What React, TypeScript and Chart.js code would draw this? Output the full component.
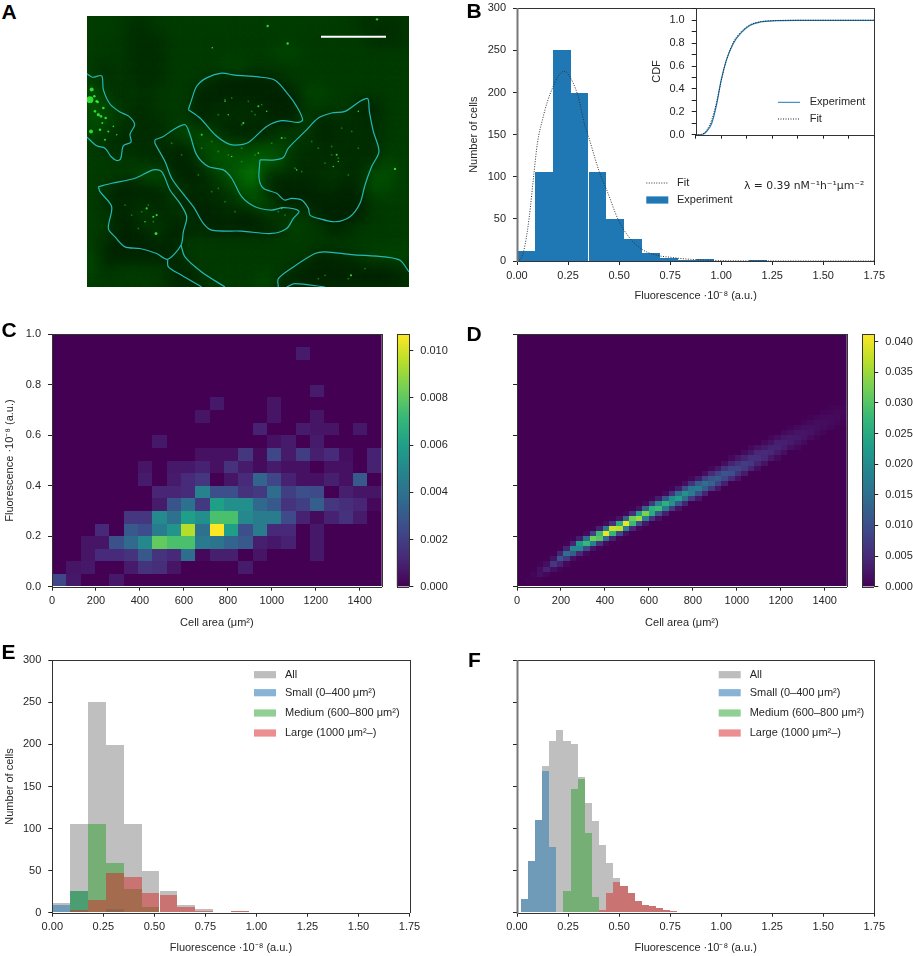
import { useEffect, useRef } from "react"
import { Chart, registerables } from "chart.js"

Chart.register(...registerables)

// ---- histogram data (20 bins, panels B and E) ----
const coarseBins = [
  0.044, 0.131, 0.219, 0.306, 0.394, 0.481, 0.569, 0.656, 0.744, 0.831,
  0.919, 1.006, 1.094, 1.181, 1.269, 1.356, 1.444, 1.531, 1.619, 1.706,
]
const allCells = [12, 106, 251, 199, 106, 50, 26, 9, 4, 1, 2, 0.4, 0, 1, 0, 0, 0, 0, 0, 0]
const smallCells = [9, 26, 0, 4, 0, 0, 0, 0, 0, 0, 0, 0, 0, 0, 0, 0, 0, 0, 0, 0]
const mediumCells = [0, 26, 105, 59, 28, 7, 0, 0, 0, 0, 0, 0, 0, 0, 0, 0, 0, 0, 0, 0]
const largeCells = [0, 3, 15, 47, 43, 23, 21, 7, 2, 1, 2, 0, 0, 1, 0, 0, 0, 0, 0, 0]

const fitX = [0, 0.02, 0.04, 0.06, 0.083, 0.1, 0.125, 0.15, 0.175, 0.2, 0.23, 0.25, 0.3, 0.33, 0.35, 0.403, 0.44, 0.496, 0.553, 0.618, 0.7, 0.75, 0.8, 0.85, 0.9, 1, 1.1, 1.25, 1.75]
const fitY = [0, 3, 20, 52, 104, 140, 168, 190, 206, 219, 225, 222, 195, 163, 148, 106, 84, 49, 27, 13, 6, 4.5, 3, 2, 1.2, 0.5, 0.2, 0.1, 0]

// ---- CDF inset ----
const cdfX = [0, 0.06, 0.108, 0.157, 0.206, 0.25, 0.3, 0.37, 0.444, 0.53, 0.63, 0.79, 1, 1.75]
const cdfExperiment = [0, 0, 0.03, 0.1, 0.27, 0.48, 0.65, 0.8, 0.89, 0.955, 0.985, 0.997, 1, 1]
const cdfFit = [0, 0.004, 0.04, 0.13, 0.29, 0.47, 0.65, 0.81, 0.9, 0.96, 0.987, 0.998, 1, 1]

// ---- histogram data (panel F) ----
const fineBins = [
  0.0355, 0.0704, 0.1053, 0.1402, 0.1751, 0.21, 0.2449, 0.2798, 0.3147, 0.3496, 0.3845, 0.4194, 0.4543,
  0.4892, 0.5241, 0.559, 0.5939, 0.6288, 0.6637, 0.6986, 0.7335, 0.7684, 0.8033, 0.8382, 0.8731, 0.908,
]
const simAll = [16, 61, 110, 174, 204, 217, 204, 200, 161, 130, 109, 80, 59, 41, 32, 23, 14, 9, 8, 5, 3, 2, 1.3, 1, 0.5, 0.3]
const simSmall = [16, 61, 110, 168, 78, 1, 0, 0, 0, 0, 0, 0, 0, 0, 0, 0, 0, 0, 0, 0, 0, 0, 0, 0, 0, 0]
const simMedium = [0, 0, 0, 0, 0, 0, 26, 147, 159, 95, 19, 0, 0, 0, 0, 0, 0, 0, 0, 0, 0, 0, 0, 0, 0, 0]
const simLarge = [0, 0, 0, 0, 0, 0, 0, 0, 0, 0, 0, 3, 24, 37, 32, 23, 14, 9, 8, 5, 3, 2, 1.3, 1, 0.5, 0.3]

// ---- panel C: measured density, one row per 0.05 fluorescence, 23 area bins (x 1e-3) ----
const measuredRows = [
  [2.3, 0.7, 0, 0, 0.7, 0, 0, 0, 0, 0, 0, 0, 0, 0, 0, 0, 0, 0, 0, 0, 0, 0, 0],
  [0, 0.6, 0.7, 0, 0, 0.8, 1.6, 1.4, 0.6, 0, 0, 0, 0, 0.8, 0, 0, 0, 0, 0, 0, 0, 0, 0],
  [0, 0, 0.6, 1.3, 1.3, 1.6, 2.9, 1.6, 1.2, 3.8, 0.2, 0.9, 0.9, 0, 0.6, 0, 0, 0, 0.7, 0, 0, 0, 0],
  [0, 0, 0.6, 0.6, 2.7, 3.7, 5, 8.1, 7.6, 7.6, 4.4, 4.1, 3.4, 3, 0.9, 0.7, 1, 0, 0.7, 0, 0, 0, 0],
  [0, 0, 0, 1.2, 0, 3, 2.5, 4.5, 5.5, 9.5, 4, 10.7, 6, 2.6, 4.5, 1.2, 1.2, 0, 0.7, 0, 0, 0, 0],
  [0, 0, 0, 0, 0, 1.7, 1.7, 5.1, 4, 6, 5.3, 7.6, 7.6, 5, 4.5, 4.5, 2.4, 1, 0.3, 1, 1.5, 0.8, 0],
  [0, 0, 0, 0, 0, 0, 0, 0.8, 2.8, 4, 1.8, 6, 5.3, 5.3, 3.6, 3, 1.6, 2, 3.2, 1.7, 1.4, 1.1, 0.2],
  [0, 0, 0, 0, 0, 0, 0, 1.1, 1.1, 1.3, 4.8, 2.6, 2.6, 1.5, 1.8, 3.8, 2, 2.6, 2.4, 0, 0.9, 0.6, 0.6],
  [0, 0, 0, 0, 0, 0, 0.8, 0, 0.8, 1.3, 1.7, 0, 0.6, 1.3, 3.4, 2.3, 1, 0.5, 0.5, 0.9, 0.5, 3, 0],
  [0, 0, 0, 0, 0, 0, 0.6, 0, 0.7, 0.7, 1, 0.5, 1.5, 0.8, 0.3, 0.8, 0.5, 0.5, 0, 0.5, 0.5, 0, 1],
  [0, 0, 0, 0, 0, 0, 0, 0, 0, 0, 0.5, 0.5, 0.5, 1.7, 0.3, 2.3, 0.8, 1.9, 0.9, 1.3, 0.4, 0, 1],
  [0, 0, 0, 0, 0, 0, 0, 0.7, 0, 0, 0, 0, 0, 0, 0, 0.5, 0.8, 0, 0.8, 0, 0, 0, 0],
  [0, 0, 0, 0, 0, 0, 0, 0, 0, 0, 0, 0, 0, 0, 1, 0, 0, 0.8, 0.6, 0.6, 0, 0.7, 0],
  [0, 0, 0, 0, 0, 0, 0, 0, 0, 0, 0.6, 0, 0, 0, 0, 0.6, 0, 0, 0.6, 0, 0, 0, 0],
  [0, 0, 0, 0, 0, 0, 0, 0, 0, 0, 0, 0.7, 0, 0, 0, 0.6, 0, 0, 0, 0, 0, 0, 0],
  [0, 0, 0, 0, 0, 0, 0, 0, 0, 0, 0, 0, 0, 0, 0, 0, 0, 0, 0.8, 0, 0, 0, 0],
  [0, 0, 0, 0, 0, 0, 0, 0, 0, 0, 0, 0, 0, 0, 0, 0, 0, 0, 0, 0, 0, 0, 0],
  [0, 0, 0, 0, 0, 0, 0, 0, 0, 0, 0, 0, 0, 0, 0, 0, 0, 0, 0, 0, 0, 0, 0],
  [0, 0, 0, 0, 0, 0, 0, 0, 0, 0, 0, 0, 0, 0, 0, 0, 0, 0.8, 0, 0, 0, 0, 0],
  [0, 0, 0, 0, 0, 0, 0, 0, 0, 0, 0, 0, 0, 0, 0, 0, 0, 0, 0, 0, 0, 0, 0],
]

// ---- panel D: simulated density, 50 x 50 bins, each column lists its first lit row then its values (x 1e-3) ----
const simulatedColumns = [
  [0], [0, 0.1, 0.2], [1, 0.3, 0.6, 0.1], [1, 0.3, 1.8, 1.5, 0.2], [2, 0.7, 3.9, 1.5, 0.1],
  [3, 1.8, 6.8, 2, 0.1], [3, 0.4, 3.8, 10.6, 4, 0.3], [4, 0.8, 7, 14.8, 4, 0.2], [5, 1.8, 12, 19, 4, 0.2], [5, 0.3, 4.5, 19, 22, 3],
  [6, 0.8, 9, 27.5, 15, 1], [7, 2.2, 18, 32, 8, 0.3], [7, 0.4, 6, 30, 28, 3.5], [8, 1.2, 14, 40, 17, 1.2], [9, 3.5, 27, 38, 6, 0.3],
  [9, 0.5, 9, 37, 25, 2], [10, 1.8, 18, 40, 13, 0.7], [11, 4.5, 28, 32, 5.5, 0.2], [11, 0.8, 10, 35, 23, 2], [12, 2.5, 18, 33, 13, 1],
  [13, 6, 25, 26, 7, 0.4], [13, 1.5, 11, 28, 19, 3], [14, 3.5, 17, 26, 11, 1], [15, 7, 21, 20, 6, 0.5], [15, 2, 11, 23, 15, 3],
  [16, 4, 15, 21, 10, 1.5], [17, 7, 17, 16, 6, 0.7], [17, 2.5, 10, 17, 12, 3], [18, 4, 12, 15, 8, 1.5], [19, 6.5, 13, 11, 5, 0.7],
  [19, 2.5, 8, 12, 8, 2.5], [20, 3.5, 9, 11, 6, 1.5], [21, 5, 10, 8, 4, 0.8], [21, 2, 6, 8.5, 6, 2.5], [22, 3, 6.5, 7.5, 4, 1.2],
  [23, 4, 6.5, 5.5, 2.5, 0.8], [23, 1.5, 4, 5.5, 4.5, 2], [24, 2, 4.5, 5, 3, 1], [25, 2.5, 4.5, 4, 2, 0.6], [25, 1, 3, 4, 3.5, 1.5],
  [26, 1.5, 3.2, 3.5, 2.5, 0.8], [27, 1.8, 3, 2.8, 1.6, 0.5], [27, 0.8, 2, 2.7, 2.2, 1], [28, 1, 2.1, 2.4, 1.6, 0.6], [29, 1.2, 2, 1.8, 1, 0.3],
  [29, 0.5, 1.2, 1.7, 1.4, 0.7], [30, 0.6, 1.2, 1.4, 1, 0.4], [31, 0.7, 1.1, 1, 0.6, 0.2], [31, 0.3, 0.7, 1, 0.8, 0.4], [32, 0.3, 0.6, 0.8, 0.7, 0.4],
]

// ---- panel A: micrograph read as a coarse brightness grid, cell outlines and bright spots (image units) ----
const brightnessRows = [
  "3332 2333 3333 3333 3333 2222",
  "3332 2233 3333 3333 3333 3222",
  "3332 2233 3333 3344 3333 3333",
  "3232 2233 3344 3333 3333 3333",
  "3232 2233 3211 1123 3333 3333",
  "5323 2333 1111 1111 4433 3333",
  "5432 2333 1222 2111 3333 1133",
  "5432 2233 1222 2211 4122 2233",
  "4322 2235 4411 1133 3122 2233",
  "3222 2221 4554 4543 2222 2233",
  "3333 2211 3555 6652 2222 2243",
  "3333 5521 1356 9222 2232 2553",
  "3311 1232 2235 6211 1221 2543",
  "3212 2131 1223 5411 1111 1333",
  "3312 3223 1121 1333 3111 1333",
  "3311 2311 2111 1124 3312 3333",
  "3211 1213 3333 3333 3333 3333",
  "4111 1113 3333 3333 3122 3444",
  "4233 3321 3333 3332 1111 1112",
  "3333 3311 1333 3511 1111 1111",
]
const cellOutlines = [
  [[6, 178], [22, 188], [50, 184], [55, 225], [75, 268], [105, 292], [132, 305], [149, 330], [135, 358], [138, 382], [115, 393], [107, 432], [95, 437], [78, 425], [60, 400], [35, 393], [6, 367]],
  [[310, 285], [320, 255], [335, 215], [365, 190], [410, 176], [450, 182], [520, 187], [570, 197], [610, 240], [635, 275], [653, 315], [640, 323], [590, 318], [545, 335], [490, 383], [450, 391], [425, 385], [390, 360], [345, 310], [310, 285]],
  [[525, 435], [570, 435], [595, 428], [610, 400], [660, 350], [700, 310], [740, 295], [780, 290], [825, 260], [848, 252], [853, 290], [865, 350], [882, 410], [860, 455], [840, 510], [825, 565], [795, 605], [750, 620], [700, 610], [675, 600], [670, 580], [650, 555], [620, 550], [598, 555], [575, 535], [535, 520], [522, 490], [525, 435]],
  [[210, 375], [235, 365], [265, 345], [300, 330], [315, 360], [335, 420], [370, 455], [415, 465], [440, 490], [470, 545], [510, 575], [560, 585], [595, 578], [642, 588], [625, 610], [605, 640], [560, 655], [470, 648], [380, 645], [355, 625], [325, 575], [285, 525], [260, 490], [240, 440], [210, 385], [210, 375]],
  [[40, 515], [80, 505], [150, 490], [205, 465], [230, 470], [255, 525], [285, 565], [305, 605], [295, 650], [288, 690], [248, 732], [215, 715], [165, 700], [120, 695], [90, 665], [70, 640], [80, 575], [45, 530], [40, 515]],
  [[288, 690], [300, 725], [350, 770], [420, 815]],
  [[248, 732], [250, 755], [290, 780], [350, 815]],
  [[580, 815], [580, 790], [625, 755], [690, 715], [720, 710], [800, 718], [900, 725], [945, 735], [972, 770]],
  [[605, 815], [630, 805], [720, 815]],
]
const spotX = [15, 20, 35, 40, 48, 55, 30, 62, 45, 18, 60, 38, 28, 52, 70, 95, 85, 876, 548, 608, 382, 930, 213, 205, 185, 215, 180, 798, 475, 420, 520, 545, 430, 755, 745, 635, 760, 820, 590, 440, 520, 590, 350]
const spotY = [255, 225, 260, 300, 305, 280, 290, 310, 345, 350, 375, 262, 245, 325, 350, 360, 335, 15, 35, 87, 100, 462, 655, 605, 580, 600, 620, 780, 325, 260, 275, 290, 300, 420, 455, 465, 440, 290, 580, 425, 415, 370, 360]
const spotSize = [3.4, 2, 1.3, 1.6, 1.3, 1.3, 1.3, 1.3, 1.3, 2, 1, 1.3, 1.3, 1, 1, 0.8, 0.8, 1.2, 1.2, 1.2, 0.8, 1.2, 1.5, 1.1, 1.1, 1.1, 0.8, 1.1, 1.1, 0.8, 1, 0.8, 0.8, 1, 0.8, 0.8, 0.8, 0.8, 0.8, 0.8, 0.8, 1, 1]
const speckX = [420, 440, 500, 530, 470, 490, 510, 400, 740, 760, 720, 800, 770, 820, 700, 680, 630, 650, 740, 790, 260, 290, 380, 420, 450, 580, 600, 400, 340, 430, 470, 510, 560, 600, 380, 350, 400, 470, 120, 140, 190, 170, 205, 160, 720, 790, 840, 700]
const speckY = [255, 250, 290, 270, 330, 260, 300, 300, 420, 430, 445, 350, 340, 400, 400, 380, 460, 470, 395, 480, 385, 420, 530, 560, 590, 590, 600, 520, 480, 420, 440, 420, 385, 370, 380, 400, 410, 400, 570, 600, 570, 590, 620, 640, 780, 790, 760, 790]
const scaleBarX = [708, 903]
const scaleBarY = [67, 67]

const FONT = { family: "'Liberation Sans', Arial, sans-serif", size: 11 }
const INK = "#262626"
const VIRIDIS = ["#440154", "#482878", "#3e4989", "#31688e", "#26828e", "#1f9e89", "#35b779", "#6ece58", "#b5de2b", "#fde725"]

const viridis = (t: number) => {
  const p = Math.min(Math.max(t, 0), 1) * (VIRIDIS.length - 1)
  const i = Math.min(Math.floor(p), VIRIDIS.length - 2)
  const f = p - i
  const a = VIRIDIS[i]
  const b = VIRIDIS[i + 1]
  const mix = (k: number) => {
    const u = parseInt(a.slice(k, k + 2), 16)
    const v = parseInt(b.slice(k, k + 2), 16)
    return Math.round(u + (v - u) * f)
  }
  return `rgb(${mix(1)},${mix(3)},${mix(5)})`
}

// ---- layout helpers ----
const fixWidth = (w: number) => (s: any) => {
  s.width = w
  s.paddingTop = s.paddingBottom = s.paddingLeft = s.paddingRight = 0
}
const fixHeight = (h: number) => (s: any) => {
  s.height = h
  s.paddingTop = s.paddingBottom = s.paddingLeft = s.paddingRight = 0
}

type Margin = { l: number; t: number; r: number; b: number }
type Plot = { l: number; t: number; r: number; b: number }

// canvases sit on whole pixels, the margins take up the fraction
const snap = (p: Plot, m: Margin): Margin => ({
  l: p.l - Math.floor(p.l - m.l),
  t: p.t - Math.floor(p.t - m.t),
  r: Math.ceil(p.r + m.r) - p.r,
  b: Math.ceil(p.b + m.b) - p.b,
})

function axis(min: number, max: number, step: number, digits: number, size: number, horizontal: boolean, title?: string, showLabels = true) {
  return {
    type: "linear" as const,
    min,
    max,
    offset: false,
    border: { display: false },
    grid: { drawOnChartArea: false, offset: false, tickLength: 4, tickColor: "#222", tickWidth: 1 },
    ticks: {
      stepSize: step,
      autoSkip: false,
      includeBounds: false,
      maxRotation: 0,
      minRotation: 0,
      padding: horizontal ? 4 : 7,
      color: INK,
      font: FONT,
      callback: (v: any) => (showLabels ? Number(v).toFixed(digits) : ""),
    },
    title: title ? { display: true, text: title, color: INK, font: FONT, padding: 0 } : { display: false },
    afterFit: horizontal ? fixHeight(size) : fixWidth(size),
  }
}

const spines = (leftColor = "#333", leftWidth = 1) => ({
  id: "spines",
  afterDraw(chart: any) {
    const { ctx, chartArea: a } = chart
    const l = Math.round(a.left)
    const r = Math.round(a.right)
    const t = Math.round(a.top)
    const b = Math.round(a.bottom)
    ctx.save()
    ctx.strokeStyle = "#333"
    ctx.lineWidth = 1
    ctx.beginPath()
    ctx.moveTo(l, t + 0.5)
    ctx.lineTo(r, t + 0.5)
    ctx.moveTo(r + 0.5, t)
    ctx.lineTo(r + 0.5, b)
    ctx.moveTo(l, b + 0.5)
    ctx.lineTo(r, b + 0.5)
    ctx.stroke()
    ctx.strokeStyle = leftColor
    ctx.lineWidth = leftWidth
    ctx.beginPath()
    ctx.moveTo(l + 0.5, t)
    ctx.lineTo(l + 0.5, b + 1)
    ctx.stroke()
    ctx.restore()
  },
})

// bars land on whole pixels so neighbours leave no seam between them
const crispBars = {
  id: "crispBars",
  afterDatasetsUpdate(chart: any) {
    chart.getSortedVisibleDatasetMetas().forEach((meta: any) => {
      if (meta.type !== "bar") return
      meta.data.forEach((el: any) => {
        const l = Math.round(el.x - el.width / 2)
        const r = Math.round(el.x + el.width / 2)
        el.x = (l + r) / 2
        el.width = r - l
        el.y = Math.round(el.y)
        el.base = Math.round(el.base)
        el.height = el.base - el.y
      })
    })
  },
}

type Key = { label: string; y: number; color?: string; line?: boolean; dash?: number[] }

// legend drawn at chosen offsets inside the plot, the built-in one cannot set the swatch gap
const keyBox = (x0: number, textX: number, keys: Key[], swatch = 22) => ({
  id: "keyBox",
  afterDatasetsDraw(chart: any) {
    const { ctx, chartArea: a } = chart
    ctx.save()
    ctx.font = `${FONT.size}px ${FONT.family}`
    ctx.textBaseline = "middle"
    keys.forEach((k) => {
      const y = a.top + k.y
      if (k.line) {
        ctx.strokeStyle = k.color
        ctx.lineWidth = 1
        ctx.setLineDash(k.dash || [])
        ctx.beginPath()
        ctx.moveTo(a.left + x0, y)
        ctx.lineTo(a.left + x0 + swatch, y)
        ctx.stroke()
        ctx.setLineDash([])
      } else {
        ctx.fillStyle = k.color
        ctx.fillRect(a.left + x0, y - 3.6, swatch, 7.2)
      }
      ctx.fillStyle = INK
      ctx.fillText(k.label, a.left + textX, y)
    })
    ctx.restore()
  },
})

const note = (text: string, x: number, y: number) => ({
  id: "note",
  afterDatasetsDraw(chart: any) {
    const { ctx, chartArea: a } = chart
    ctx.save()
    ctx.font = "10.8px 'DejaVu Sans', sans-serif"
    ctx.textBaseline = "middle"
    ctx.fillStyle = INK
    ctx.fillText(text, a.left + x, a.top + y)
    ctx.restore()
  },
})

const softLayers = {
  id: "softLayers",
  beforeDatasetsDraw(chart: any) {
    const { ctx, chartArea: a } = chart
    ctx.save()
    ctx.fillStyle = "rgb(2,60,2)"
    ctx.fillRect(a.left, a.top, a.width, a.height)
    ctx.restore()
  },
  beforeDatasetDraw(chart: any, args: any) {
    const blur = chart.data.datasets[args.index].blur
    if (blur) chart.ctx.filter = `blur(${blur}px)`
  },
  afterDatasetDraw(chart: any) {
    chart.ctx.filter = "none"
  },
}

function ChartBox({ plot, margin, build }: { plot: Plot; margin: Margin; build: () => any }) {
  const ref = useRef<HTMLCanvasElement>(null)
  useEffect(() => {
    if (!ref.current) return
    const chart = new Chart(ref.current, build())
    return () => chart.destroy()
  }, [])
  return (
    <canvas
      ref={ref}
      width={Math.round(plot.r - plot.l + margin.l + margin.r)}
      height={Math.round(plot.b - plot.t + margin.t + margin.b)}
      style={{ position: "absolute", left: Math.round(plot.l - margin.l), top: Math.round(plot.t - margin.t) }}
    />
  )
}

const baseOptions = (m: Margin) => ({
  responsive: false,
  animation: false as const,
  events: [],
  layout: { autoPadding: false, padding: { top: m.t, right: m.r, left: 0, bottom: 0 } },
  plugins: { legend: { display: false }, tooltip: { enabled: false } },
})

const X_TITLE = "Fluorescence ·10⁻⁸ (a.u.)"
const AREA_TITLE = "Cell area (μm²)"
const COUNT_TITLE = "Number of cells"

const HIST_COLORS = ["rgba(127,127,127,0.5)", "rgba(31,119,180,0.5)", "rgba(44,160,44,0.5)", "rgba(214,39,40,0.5)"]
const KEY_COLORS = ["#bdbdbd", "#87b4d6", "#91cf94", "#ec8e90"]
const KEY_LABELS = ["All", "Small (0–400 μm²)", "Medium (600–800 μm²)", "Large (1000 μm²–)"]
const KEY_Y = [14.4, 32.4, 52.7, 72.7]

const toPoints = (xs: number[], ys: number[]) => xs.map((x, i) => ({ x, y: ys[i] }))

const histogramSet = (bins: number[], values: number[], color: string, order: number) => ({
  data: toPoints(bins, values),
  backgroundColor: color,
  barPercentage: 1,
  categoryPercentage: 1,
  grouped: false,
  inflateAmount: 0,
  borderWidth: 0,
  order,
})

// ---- panel configs ----
const PLOT_B = { l: 517, t: 8.3, r: 874.3, b: 261 }
const MARGIN_B = snap(PLOT_B, { l: 50, t: 6, r: 14, b: 41.5 })
const PLOT_INSET = { l: 695.7, t: 8.3, r: 874.3, b: 134.7 }
const MARGIN_INSET = snap(PLOT_INSET, { l: 45, t: 2, r: 2, b: 8 })
const PLOT_C = { l: 52, t: 334.3, r: 381.7, b: 586.7 }
const MARGIN_C = snap(PLOT_C, { l: 48.5, t: 6, r: 8, b: 42.5 })
const PLOT_CBAR_C = { l: 396.7, t: 334.3, r: 409.3, b: 586.7 }
const MARGIN_CBAR_C = snap(PLOT_CBAR_C, { l: 1, t: 6, r: 40, b: 6 })
const PLOT_D = { l: 517, t: 334.3, r: 846.7, b: 586.7 }
const MARGIN_D = snap(PLOT_D, { l: 20, t: 6, r: 8, b: 42.5 })
const PLOT_CBAR_D = { l: 862, t: 334.3, r: 874.3, b: 586.7 }
const MARGIN_CBAR_D = snap(PLOT_CBAR_D, { l: 1, t: 6, r: 38.7, b: 6 })
const PLOT_E = { l: 52.3, t: 660.3, r: 409.5, b: 912.7 }
const MARGIN_E = snap(PLOT_E, { l: 48.5, t: 6, r: 14, b: 42 })
const PLOT_F = { l: 517, t: 660.3, r: 874.3, b: 912.7 }
const MARGIN_F = snap(PLOT_F, { l: 20, t: 6, r: 14, b: 42 })
const PLOT_A = { l: 87, t: 16, r: 409, b: 287 }
const MARGIN_A = { l: 0, t: 0, r: 0, b: 0 }

function configB() {
  return {
    type: "bar",
    data: {
      datasets: [
        {
          type: "line",
          data: toPoints(fitX, fitY),
          borderColor: "#333",
          borderWidth: 1,
          borderDash: [1, 1.5],
          pointRadius: 0,
          cubicInterpolationMode: "monotone",
        },
        histogramSet(coarseBins, allCells, "#1f77b4", 0),
      ],
    },
    options: {
      ...baseOptions(MARGIN_B),
      scales: {
        x: axis(0, 1.75, 0.25, 2, MARGIN_B.b, true, X_TITLE),
        y: axis(0, 300, 50, 0, MARGIN_B.l, false, COUNT_TITLE),
      },
    },
    plugins: [
      crispBars,
      spines("#777", 2),
      keyBox(129.3, 160, [
        { label: "Fit", y: 174.7, color: "#333", line: true, dash: [1, 1.5] },
        { label: "Experiment", y: 191.7, color: "#1f77b4" },
      ]),
      note("λ = 0.39 nM⁻¹h⁻¹μm⁻²", 227, 177.7),
    ],
  }
}

function configInset() {
  return {
    type: "line",
    data: {
      datasets: [
        { data: toPoints(cdfX, cdfFit), borderColor: "#222", borderWidth: 1, borderDash: [1, 1.5], pointRadius: 0, cubicInterpolationMode: "monotone" },
        { data: toPoints(cdfX, cdfExperiment), borderColor: "#1f77b4", borderWidth: 1.2, pointRadius: 0, cubicInterpolationMode: "monotone" },
      ],
    },
    options: {
      ...baseOptions(MARGIN_INSET),
      scales: {
        x: axis(0, 1.75, 0.25, 2, MARGIN_INSET.b, true, undefined, false),
        y: {
          ...axis(0, 1.105, 0.1, 1, MARGIN_INSET.l, false, "CDF"),
          ticks: {
            ...axis(0, 1.105, 0.1, 1, MARGIN_INSET.l, false).ticks,
            callback: (v: any) => (Math.round(Number(v) * 10) % 2 === 0 ? Number(v).toFixed(1) : ""),
          },
        },
      },
    },
    plugins: [
      spines(),
      keyBox(82.3, 114, [
        { label: "Experiment", y: 94, color: "#1f77b4", line: true },
        { label: "Fit", y: 110.7, color: "#222", line: true, dash: [1, 1.5] },
      ]),
    ],
  }
}

// heatmap: every cell is one floating bar, rows are datasets
function heatDatasets(rows: number[][], top: number, xMax: number, yMax: number) {
  const cols = rows[0].length
  const dx = xMax / cols
  const dy = yMax / rows.length
  return rows.map((row, r) => ({
    data: row.map((_, c) => ({ x: (c + 0.5) * dx, y: [r * dy, (r + 1) * dy] })),
    backgroundColor: row.map((v) => viridis(v / top)),
    barPercentage: 1,
    categoryPercentage: 1,
    grouped: false,
    inflateAmount: 0,
    borderWidth: 0,
  }))
}

function expandColumns(columns: number[][], nRows: number) {
  const rows = Array.from({ length: nRows }, () => columns.map(() => 0))
  columns.forEach((col, c) => {
    col.slice(1).forEach((v, k) => {
      rows[col[0] + k][c] = v
    })
  })
  return rows
}

function configHeat(rows: number[][], top: number, margin: Margin, showY: boolean) {
  return {
    type: "bar",
    data: { datasets: heatDatasets(rows, top, 1500, 1) },
    options: {
      ...baseOptions(margin),
      scales: {
        x: axis(0, 1500, 200, 0, margin.b, true, AREA_TITLE),
        y: axis(0, 1, 0.2, 1, margin.l, false, showY ? X_TITLE : undefined, showY),
      },
    },
    plugins: [crispBars, spines()],
  }
}

function configColorbar(top: number, step: number, margin: Margin) {
  return {
    type: "bar",
    data: {
      labels: ["density"],
      datasets: [
        {
          data: [[0, top]],
          barPercentage: 1,
          categoryPercentage: 1,
          borderWidth: 0,
          backgroundColor: (c: any) => {
            const a = c.chart.chartArea
            if (!a) return VIRIDIS[0]
            const g = c.chart.ctx.createLinearGradient(0, a.bottom, 0, a.top)
            VIRIDIS.forEach((col, i) => g.addColorStop(i / (VIRIDIS.length - 1), col))
            return g
          },
        },
      ],
    },
    options: {
      ...baseOptions(margin),
      layout: { autoPadding: false, padding: { top: margin.t, bottom: margin.b, left: margin.l, right: 0 } },
      scales: {
        x: { display: false },
        y: { ...axis(0, top, step, 3, margin.r, false), position: "right" },
      },
    },
    plugins: [spines()],
  }
}

const histKeys = (x0: number, textX: number) =>
  keyBox(x0, textX, KEY_LABELS.map((label, i) => ({ label, y: KEY_Y[i], color: KEY_COLORS[i] })))

function configE() {
  return {
    type: "bar",
    data: {
      datasets: [
        histogramSet(coarseBins, allCells, HIST_COLORS[0], 4),
        histogramSet(coarseBins, smallCells, HIST_COLORS[1], 3),
        histogramSet(coarseBins, mediumCells, HIST_COLORS[2], 2),
        histogramSet(coarseBins, largeCells, HIST_COLORS[3], 1),
      ],
    },
    options: {
      ...baseOptions(MARGIN_E),
      scales: {
        x: axis(0, 1.75, 0.25, 2, MARGIN_E.b, true, X_TITLE),
        y: axis(0, 300, 50, 0, MARGIN_E.l, false, COUNT_TITLE),
      },
    },
    plugins: [crispBars, spines(), histKeys(201.7, 232.7)],
  }
}

function configF() {
  return {
    type: "bar",
    data: {
      datasets: [
        histogramSet(fineBins, simAll, HIST_COLORS[0], 4),
        histogramSet(fineBins, simSmall, HIST_COLORS[1], 3),
        histogramSet(fineBins, simMedium, HIST_COLORS[2], 2),
        histogramSet(fineBins, simLarge, HIST_COLORS[3], 1),
      ],
    },
    options: {
      ...baseOptions(MARGIN_F),
      scales: {
        x: axis(0, 1.75, 0.25, 2, MARGIN_F.b, true, X_TITLE),
        y: axis(0, 300, 50, 0, MARGIN_F.l, false, undefined, false),
      },
    },
    plugins: [crispBars, spines("#777", 2), histKeys(201.7, 232.7)],
  }
}

function configA() {
  const levels = [
    [0, 14, 0], [0, 30, 0], [0, 44, 0], [2, 62, 2], [4, 80, 4], [6, 96, 6], [8, 114, 8], [12, 132, 12], [14, 148, 14], [20, 168, 20],
  ]
  const rows = brightnessRows.map((s) => s.replace(/ /g, "").split("").map(Number))
  const dx = 966 / rows[0].length
  const dy = 810 / rows.length
  const background = rows.map((row, r) => ({
    data: row.map((_, c) => ({ x: 6 + (c + 0.5) * dx, y: [5 + r * dy, 5 + (r + 1) * dy] })),
    backgroundColor: row.map((v) => `rgb(${levels[v].join(",")})`),
    barPercentage: 1,
    categoryPercentage: 1,
    grouped: false,
    borderWidth: 0,
    blur: 8,
  }))
  const outlines = cellOutlines.map((pts) => ({
    type: "line",
    data: pts.map(([x, y]) => ({ x, y })),
    borderColor: "#25b8b8",
    borderWidth: 1.2,
    tension: 0.3,
    pointRadius: 0,
  }))
  return {
    type: "bar",
    data: {
      datasets: [
        { type: "line", data: toPoints(scaleBarX, scaleBarY), borderColor: "#ffffff", borderWidth: 2, pointRadius: 0 },
        ...outlines,
        {
          type: "scatter",
          data: toPoints(spotX, spotY),
          pointRadius: spotSize,
          pointBorderWidth: 0,
          backgroundColor: "rgba(60,255,60,0.8)",
          blur: 0.6,
        },
        {
          type: "scatter",
          data: toPoints(speckX, speckY),
          pointRadius: 0.9,
          pointBorderWidth: 0,
          backgroundColor: "rgba(40,170,40,0.6)",
          blur: 0.5,
        },
        ...background,
      ],
    },
    options: {
      ...baseOptions(MARGIN_A),
      scales: {
        x: { type: "linear", display: false, min: 6, max: 972, offset: false },
        y: { type: "linear", display: false, min: 5, max: 815, reverse: true },
      },
    },
    plugins: [softLayers],
  }
}

const LETTERS: [string, number, number][] = [
  ["A", 1.5, 0],
  ["B", 466.5, -1],
  ["C", 1.5, 318],
  ["D", 466.5, 322],
  ["E", 1.5, 640],
  ["F", 468, 648],
]

export default function App() {
  return (
    <div style={{ position: "absolute", left: 0, top: 0, width: 913, height: 956, background: "#fff", overflow: "hidden" }}>
      <ChartBox plot={PLOT_A} margin={MARGIN_A} build={configA} />
      <ChartBox plot={PLOT_B} margin={MARGIN_B} build={configB} />
      <ChartBox plot={PLOT_INSET} margin={MARGIN_INSET} build={configInset} />
      <ChartBox plot={PLOT_C} margin={MARGIN_C} build={() => configHeat(measuredRows, 10.7, MARGIN_C, true)} />
      <ChartBox plot={PLOT_CBAR_C} margin={MARGIN_CBAR_C} build={() => configColorbar(0.0107, 0.002, MARGIN_CBAR_C)} />
      <ChartBox plot={PLOT_D} margin={MARGIN_D} build={() => configHeat(expandColumns(simulatedColumns, 50), 41.2, MARGIN_D, false)} />
      <ChartBox plot={PLOT_CBAR_D} margin={MARGIN_CBAR_D} build={() => configColorbar(0.0412, 0.005, MARGIN_CBAR_D)} />
      <ChartBox plot={PLOT_E} margin={MARGIN_E} build={configE} />
      <ChartBox plot={PLOT_F} margin={MARGIN_F} build={configF} />
      {LETTERS.map(([t, x, y]) => (
        <span
          key={t}
          style={{ position: "absolute", left: x, top: y, font: "bold 21px 'Liberation Sans', Arial, sans-serif", color: "#000" }}
        >
          {t}
        </span>
      ))}
    </div>
  )
}
